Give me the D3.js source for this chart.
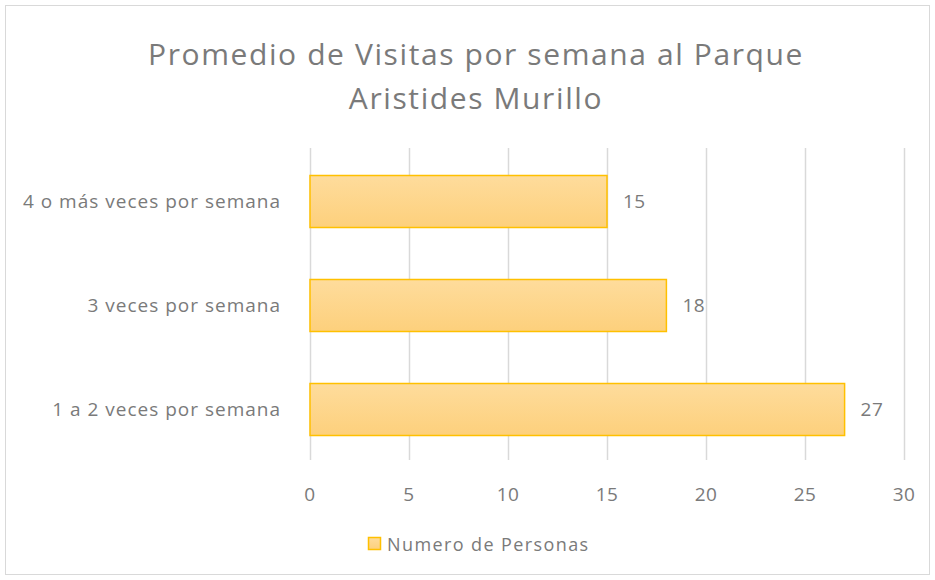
<!DOCTYPE html>
<html>
<head>
<meta charset="utf-8">
<script src="https://cdn.jsdelivr.net/npm/d3@7"></script>
<style>
  body { margin: 0; background: #fff; }
  text { font-family: "Open Sans", sans-serif; fill: #7a7a7a; }
</style>
</head>
<body>
<script>
// data
var categories = ["1 a 2 veces por semana", "3 veces por semana", "4 o más veces por semana"];
var values = [27, 18, 15];
var ticks = [0, 5, 10, 15, 20, 25, 30];
var seriesName = "Numero de Personas";

var w = 935, h = 580;
var svg = d3.select("body").append("svg")
    .attr("width", w)
    .attr("height", h);

// chart border
svg.append("rect")
    .attr("x", 5.5).attr("y", 5.5)
    .attr("width", w - 11).attr("height", h - 11)
    .attr("fill", "#fff")
    .attr("stroke", "#d9d9d9");

var grad = svg.append("defs").append("linearGradient")
    .attr("id", "barGrad")
    .attr("x1", 0).attr("y1", 0).attr("x2", 0).attr("y2", 1);
grad.append("stop").attr("offset", "0%").attr("stop-color", "#fedc9c");
grad.append("stop").attr("offset", "100%").attr("stop-color", "#fdd07c");

var x = d3.scaleLinear().domain([0, 30]).range([310, 904]);
var y = d3.scaleBand()
    .domain(categories.slice().reverse())
    .range([149.5, 461.5])
    .paddingInner(0.5)
    .paddingOuter(0.25);

// gridlines
svg.selectAll("line.grid")
    .data(ticks)
    .enter()
    .append("line")
    .attr("class", "grid")
    .attr("x1", function(d) { return Math.round(x(d)) + 0.5; })
    .attr("x2", function(d) { return Math.round(x(d)) + 0.5; })
    .attr("y1", 148)
    .attr("y2", 460)
    .attr("stroke", "#d9d9d9")
    .attr("stroke-width", 1.5);

// bars
svg.selectAll("rect.bar")
    .data(values)
    .enter()
    .append("rect")
    .attr("class", "bar")
    .attr("x", x(0))
    .attr("y", function(d, i) { return y(categories[i]); })
    .attr("width", function(d) { return x(d) - x(0); })
    .attr("height", y.bandwidth())
    .attr("fill", "url(#barGrad)")
    .attr("stroke", "#ffc000")
    .attr("stroke-width", 1.5);

// value labels
svg.selectAll("text.val")
    .data(values)
    .enter()
    .append("text")
    .attr("class", "val")
    .text(function(d) { return d; })
    .attr("x", function(d) { return x(d) + 16; })
    .attr("y", function(d, i) { return y(categories[i]) + y.bandwidth() / 2; })
    .attr("dy", "0.35em")
    .attr("font-size", "19px")
    .attr("letter-spacing", "0.5px");

// category labels
svg.selectAll("text.cat")
    .data(categories)
    .enter()
    .append("text")
    .attr("class", "cat")
    .text(function(d) { return d; })
    .attr("x", 281)
    .attr("y", function(d) { return y(d) + y.bandwidth() / 2; })
    .attr("dy", "0.35em")
    .attr("text-anchor", "end")
    .attr("font-size", "19px")
    .attr("letter-spacing", "1px");

// x axis labels
svg.selectAll("text.tick")
    .data(ticks)
    .enter()
    .append("text")
    .attr("class", "tick")
    .text(function(d) { return d; })
    .attr("x", function(d) { return x(d); })
    .attr("y", 501)
    .attr("text-anchor", "middle")
    .attr("font-size", "19px")
    .attr("letter-spacing", "0.5px");

// title
var title = svg.append("text")
    .attr("text-anchor", "middle")
    .attr("font-size", "30px")
    .attr("letter-spacing", "1.6px");
title.append("tspan").attr("x", 476).attr("y", 65).text("Promedio de Visitas por semana al Parque");
title.append("tspan").attr("x", 476).attr("y", 109).text("Aristides Murillo");

// legend
svg.append("rect")
    .attr("x", 368.5).attr("y", 537.5)
    .attr("width", 12).attr("height", 12)
    .attr("fill", "url(#barGrad)")
    .attr("stroke", "#ffc000")
    .attr("stroke-width", 1.5);
svg.append("text")
    .attr("x", 387)
    .attr("y", 551)
    .attr("font-size", "18px")
    .attr("letter-spacing", "1.4px")
    .text(seriesName);
</script>
</body>
</html>
